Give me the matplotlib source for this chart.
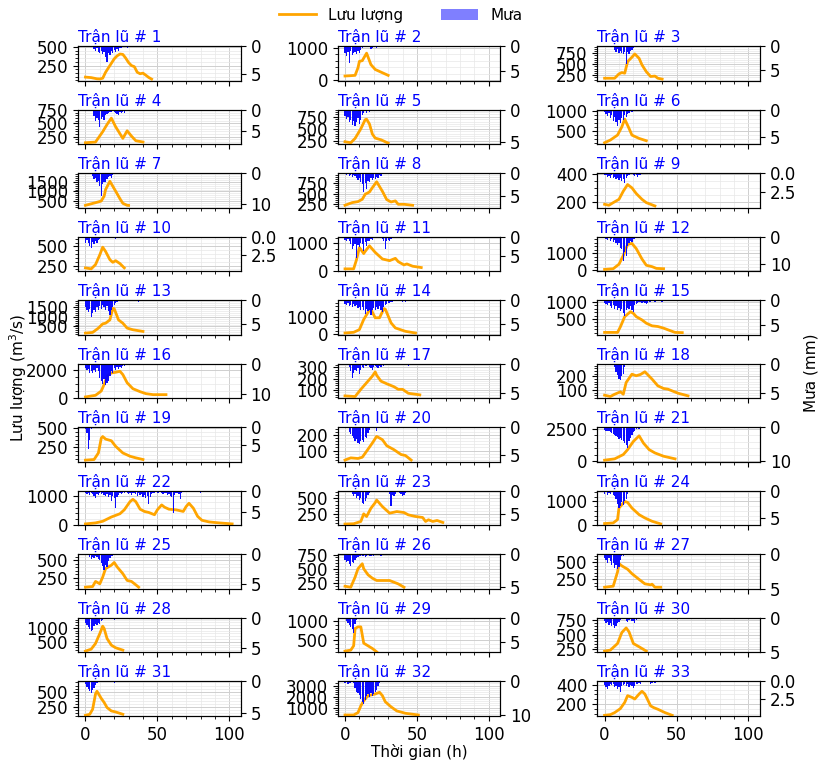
# Flood events: discharge hydrograph + inverted hourly rainfall, 33 events

import matplotlib
matplotlib.use("Agg")
import matplotlib.pyplot as plt
from matplotlib.lines import Line2D
from matplotlib.patches import Patch

# discharge (hour, m3/s)
q01 = [(0,95),(4,88),(8,72),(10,70),(12,80),(14,160),(16,220),(18,280),(20,340),(22,380),(24,405),(26,400),(28,350),(30,290),(32,250),(34,235),(36,160),(38,140),(40,148),(42,120),(44,90),(46,68)]
q02 = [(0,130),(4,140),(7,150),(9,380),(10,580),(12,600),(15,830),(18,480),(21,330),(25,250),(27,210),(30,150)]
q03 = [(0,180),(7,180),(10,280),(12,310),(14,295),(16,560),(19,660),(21,735),(24,635),(26,485),(29,330),(32,220),(35,230),(37,180),(40,160)]
q04 = [(0,137),(7,150),(12,344),(15,480),(18,600),(21,437),(26,219),(29,362),(32,262),(35,175),(40,150)]
q05 = [(0,229),(4,208),(7,298),(11,500),(14,690),(15,700),(17,600),(19,390),(21,305),(25,270),(30,200)]
q06 = [(0,195),(4,263),(9,390),(12,600),(14,797),(17,560),(19,390),(24,305),(29,246)]
q07 = [(0,276),(7,414),(11,500),(13,758),(14,1100),(17,1534),(19,1276),(21,1017),(24,620),(26,380),(29,276),(30,270)]
q08 = [(0,227),(5,290),(9,313),(12,368),(14,485),(17,540),(19,640),(22,780),(26,555),(29,360),(32,305),(35,330),(37,250),(41,250),(47,227)]
q09 = [(0,181),(3,174),(6,193),(10,217),(13,276),(16,324),(19,300),(22,259),(26,217),(29,193),(35,169)]
q10 = [(0,220),(4,207),(7,263),(10,392),(12,491),(14,435),(17,327),(19,293),(21,314),(24,276),(27,220)]
q11 = [(0,60),(6,60),(8,398),(10,843),(13,620),(14,700),(17,904),(21,663),(26,422),(31,361),(35,446),(37,325),(41,205),(43,241),(47,157),(53,108)]
q12 = [(0,60),(6,100),(10,360),(13,860),(16,1500),(19,1560),(22,1260),(26,660),(29,300),(33,220),(36,120),(41,100)]
q13 = [(0,166),(5,200),(9,417),(12,634),(14,667),(17,834),(19,1417),(20,1400),(23,834),(26,667),(29,417),(33,334),(40,250)]
q14 = [(0,60),(6,100),(10,255),(13,843),(17,1392),(18,1431),(21,941),(24,941),(27,1470),(28,1440),(32,647),(35,353),(42,157),(49,59)]
q15 = [(0,106),(9,106),(11,270),(14,567),(18,711),(20,663),(22,567),(26,471),(29,375),(33,298),(37,279),(41,231),(44,183),(49,106),(54,100)]
q16 = [(0,72),(7,190),(11,500),(13,976),(15,1570),(18,1810),(21,1857),(24,1929),(26,1690),(29,1095),(33,667),(38,452),(42,310),(47,238),(56,238)]
q17 = [(0,48),(7,42),(11,106),(15,164),(19,222),(21,260),(22,230),(25,178),(29,155),(34,129),(37,106),(40,106),(44,71),(52,57)]
q18 = [(0,60),(4,50),(7,67),(11,85),(13,67),(15,155),(19,217),(22,205),(25,215),(28,235),(33,180),(37,130),(41,110),(44,105),(47,92),(51,75),(58,55)]
q19 = [(0,82),(6,90),(9,176),(11,370),(12,392),(14,358),(18,336),(21,263),(26,176),(31,133),(35,112),(40,90)]
q20 = [(0,40),(4,54),(9,50),(12,58),(15,96),(19,148),(22,190),(26,169),(29,131),(34,106),(39,75),(42,69),(46,40)]
q21 = [(0,76),(7,178),(13,510),(16,892),(20,1530),(24,1964),(27,1403),(31,892),(35,637),(41,382),(49,178)]
q22 = [(0,44),(7,78),(12,133),(18,278),(24,389),(27,522),(31,800),(33,878),(35,800),(38,544),(41,467),(44,433),(48,355),(50,522),(53,689),(55,611),(58,544),(63,522),(68,467),(70,633),(72,744),(75,578),(78,300),(81,167),(86,111),(93,78),(102,44)]
q23 = [(0,85),(6,90),(11,127),(13,250),(15,207),(18,340),(21,431),(22,473),(26,367),(31,261),(33,271),(36,287),(41,271),(44,234),(49,207),(54,191),(56,127),(58,154),(61,127),(64,143),(68,111)]
q24 = [(0,70),(6,97),(9,236),(10,722),(12,861),(14,1000),(16,958),(19,722),(24,444),(28,306),(33,167),(39,56)]
q25 = [(0,123),(5,132),(7,203),(10,170),(12,264),(14,382),(18,429),(20,467),(22,406),(26,311),(29,217),(32,203),(35,156),(37,123)]
q26 = [(0,190),(4,173),(7,351),(9,500),(12,589),(13,500),(16,393),(19,333),(22,292),(26,292),(31,292),(34,262),(37,232),(41,173)]
q27 = [(0,135),(6,150),(9,360),(10,485),(12,450),(16,400),(19,335),(24,250),(28,185),(32,170),(33,180),(35,135),(39,135)]
q28 = [(0,167),(4,238),(7,440),(10,797),(12,1060),(13,976),(15,619),(18,381),(21,286),(26,202)]
q29 = [(0,211),(4,237),(6,351),(7,807),(9,851),(11,851),(13,421),(16,351),(19,281),(22,193)]
q30 = [(0,222),(4,239),(9,352),(12,540),(15,619),(17,551),(20,352),(24,296),(29,222)]
q31 = [(0,111),(3,128),(5,211),(7,461),(8,506),(11,389),(13,322),(15,239),(18,183),(21,166),(26,128)]
q32 = [(0,322),(6,322),(9,538),(11,1154),(13,1616),(16,2078),(18,2140),(21,2232),(24,2386),(26,2078),(28,1524),(32,1062),(36,692),(42,477),(51,322)]
q33 = [(0,84),(4,91),(7,112),(11,154),(14,218),(16,288),(19,270),(21,253),(24,305),(26,333),(28,305),(32,182),(34,165),(37,147),(42,112),(47,84)]

# hourly rainfall (mm), starting at hour 0
r01 = [0,0,0,0,0,0,0.5,0.8,0.3,1.0,1.2,0.9,1.5,1.1,2.0,2.8,1.2,1.6,0.9,1.3,0.7,1.0,0.5,0.8,0.3,0.4,0.2,0,0.1,0.3]
r02 = [1.5,2.0,1.2,3.4,1.0,1.8,1.5,1.2,1.6,1.0,1.4,0.8,0.5,0.3,0.2,0.1,0,0.3,0.6,0.4,0.2,0,0.4,0.2]
r03 = [0,0,0,0,0,0,0,0.8,1.2,0.6,1.5,1.0,1.4,1.7,1.2,3.8,1.3,1.6,1.0,0.8,0.4]
r04 = [0,0,0,0,0,0,1.5,2.8,2.0,2.5,4.0,2.2,1.8,2.5,1.2,1.0,0.8,0.6,0.5,0.3,0.5,0.8,1.0,1.2,0.6,0.9,0.5,0.8,0.4,0.3,0.2,0.1,0.3]
r05 = [1.0,1.5,1.2,2.0,1.6,2.4,1.8,2.6,2.0,1.4,2.2,1.6,0.8,0.5,0.3,0.6,0.2,0.4,0.2,0,0.3,0.1,0,0.2,0.1]
r06 = [0.5,0.8,1.2,0.6,1.5,1.0,2.0,1.4,2.2,3.0,1.8,2.4,1.5,1.8,1.0,1.3,0.8,0.6,0.3,0.4,0.2,0.1,0,0,0,0.2]
r07 = [0,0,0,0,0,1.0,2.0,1.5,3.0,2.5,4.3,7.5,3.5,2.8,3.0,2.0,1.2,0.8,1.5,0.6,0.3]
r08 = [0.3,0.5,0.2,0.6,0.4,0.8,0.5,0.7,1.0,1.5,1.2,2.0,2.5,4.3,2.2,3.5,1.8,2.0,1.2,1.6,1.0,1.4,0.8,1.0,0.5,0.6,0.3]
r09 = [0.3,0.2,0.5,0.4,0.6,0.3,0.7,0.5,0.8,0.6,0.9,0.7,1.0,0.8,1.3,0.6,0.4,0.2,0.1,0,0.2,0.4,0.3,0.5,0.2,0.3,0.1]
r10 = [0.8,0.5,0.9,1.2,1.5,0.7,1.0,0.6,0.8,0.4,0.3,0.2,0.1,0,0,0,0,0,0,0,0.2,0.3,0.1,0.2,0.1]
r11 = [0.8,1.0,0.6,1.2,2.0,3.3,2.4,1.8,5.4,2.2,2.8,1.6,2.0,3.7,1.5,2.4,1.0,1.2,0.6,0.8,
       0.3,0.2,0.4,0.2,0.1,0.3,0.5,1.0,3.1,1.2,0.8,1.1,0.6,0.4,0.3,0.2,0.3,0.1,0.2]
r12 = [0.5,0.8,1.2,0.6,1.5,1.0,2.0,1.4,2.5,3.0,2.2,4.0,4.7,9.0,5.5,7.2,3.5,2.4,1.5,1.8,0.8,1.0,0.4,0.6]
r13 = [1.5,2.0,2.5,1.8,3.6,2.8,2.2,2.6,1.5,2.0,1.2,1.8,1.0,1.5,2.0,1.2,2.4,3.2,2.0,1.5,
       1.0,0.6,0.4,0,0,0,0,0,0,0,0,0,0,0,0,0,0,0.4]
r14 = [0.8,1.0,0.6,1.2,1.0,1.5,0.8,1.2,1.0,1.6,1.4,2.0,1.5,2.2,2.9,1.8,2.4,2.0,3.2,2.1,
       1.6,2.0,1.4,1.8,1.2,2.0,2.5,1.5,1.0,0.8,0.6,0.5,0.4,0.3,0.2,0.1,0,0,0,0,0.3,0.2,0.3]
r15 = [0.5,0.8,1.0,0.6,1.2,1.5,1.0,1.8,1.2,2.0,1.5,2.2,1.8,2.5,3.3,2.0,1.6,1.8,1.2,2.0,
       2.3,1.0,0.8,0.5,0.3,0.4,0.6,0.3,0.5,0.8,0.6,0.4,0.3,0.2,0.1,0.3,0.2,0,0,0,0.3,0.2,0.1,0.2]
r16 = [1.5,2.2,1.8,3.0,2.5,3.2,2.0,2.8,1.5,2.4,4.8,5.5,6.5,5.0,7.0,6.2,5.5,4.0,2.5,3.0,
       1.5,2.0,1.2,1.8,1.0,1.4,0.6,0.8,0.3]
r17 = [0,0,0,0.5,1.2,2.4,1.5,1.0,1.3,0.8,1.7,1.0,0.6,0.8,0.4,0.3,0.2,0.5,0.8,1.1,
       0.6,0.4,0.5,0.8,0.3,0.5,0.2,0.3,0.1,0,0,0,0,0,0,0,0,0,0,0,0,0,0,0,0.3]
r18 = [0,0,0,0,0,0,0,0.5,1.5,2.0,2.6,2.8,2.2,1.8,0.6,0.2,0,0,0,0,0,0,0.2,0.3,0.1,0.2,0.1,0.3,0.2,0.1,0.2]
r19 = [0.5,1.5,6.1,3.5,0.5,0.2]
r20 = [0,0,0,0.8,1.2,1.5,2.0,2.4,2.1,2.8,3.0,2.5,2.2,2.6,1.8,2.0,1.0,0.5,0,0,0,0,0.6]
r21 = [0.8,1.0,1.2,1.0,1.5,1.8,2.0,2.2,2.6,2.8,3.3,3.0,3.6,4.0,4.5,5.2,6.2,4.0,3.0,2.2,1.5,1.0,0.6,0.3,0.4]
r22 = [0.5,0.8,0.4,1.0,0.6,0.8,1.2,1.6,0.8,1.0,0.5,0.8,0.6,1.0,1.2,0.8,1.5,1.0,2.4,1.2,
       1.8,4.0,1.5,1.0,0.6,0.8,0.4,0.6,0.3,0.5,0.8,0.4,1.0,0.6,0.4,0.8,1.2,0.6,1.0,0.8,
       1.5,1.0,1.8,1.2,3.2,1.5,0.8,0.5,0.6,0.3,0.4,0.6,0.3,0.5,0.8,0.4,0.6,1.0,0.8,1.2,
       1.5,5.2,1.0,0.6,0.4,0.8,2.0,0.5,0.3,0.2,0.1,0,0,0,0,0,0,0,0.3,0.2,0.4,0.3,0.2]
r23 = [0,0,0,0,0,0.6,1.2,0.8,1.5,1.1,2.0,1.6,2.6,3.0,2.2,1.5,1.0,0.4,0,0,
       0,0,0,0,0.2,0,0,0,0,0,0,0.8,3.4,1.0,1.2,0.6,0.3,0.2,0.4,0.8,1.1,0.9,0.5]
r24 = [0.5,0.3,0.8,0.4,0.6,0.3,0.8,1.0,1.5,2.4,3.2,2.8,2.0,2.6,1.8,1.6,0.5]
r25 = [0,0,0,0.5,0.8,0.4,0.6,0.3,0.5,0.8,1.0,1.5,2.0,2.6,1.8,2.2,1.2,0.6,0.3,0.2]
r26 = [0.8,1.2,1.0,1.5,1.8,1.2,1.4,0.8,0.6,0.4,0.3,0.2,0.3,0.2,0.4,0.2,0.1,0.3,0.2,0.1,0.2,0.1,0.1,0.1,0.1,0.2]
r27 = [0.5,0.8,1.2,0.6,1.0,1.5,1.2,2.0,1.6,2.2,1.8,0.8,0.3,0.2]
r28 = [0.8,1.2,1.5,1.8,2.2,2.0,1.4,1.0,1.2,0.8,1.0,0.6,0.4,0,0,0,0,0,0,0,0.3]
r29 = [0.3,0.6,1.0,1.4,1.8,2.4,3.1,1.2,0.4,0.2,0.3,0.1,0.2,0.1,0.2]
r30 = [0.5,0.8,0.6,1.0,0.8,1.2,1.0,1.5,1.2,0.8,0.6,0.3,0.2,0.1,0.2,0.5,0.6,0.3,0.2,0.4,0.5,0.7,0.3,0.2]
r31 = [0.4,0.8,1.2,1.5,1.8,1.4,1.0,0.5,0.2,0,0,0,0,0,0,0,0,0,0,0,0.2,0.1]
r32 = [0.5,0.3,0.8,0.4,0.6,0.3,0.5,2.0,3.0,3.5,4.0,5.2,6.0,6.8,5.5,4.2,3.8,4.6,3.5,4.3,3.8,3.0,2.4,1.2,0.6,0.3]
r33 = [0.5,0.8,1.1,0.6,0.3,0.5,0.4,0.8,0.6,1.0,0.8,1.4,0.7,0.5,0.3,0.6,0.4,0.8,0.5,0.7,
       0.9,0.6,0.4,0.3,0.2,0.3,0.1,0,0,0,0,0,0.3,0.2,0.1,0.2]

flows = [q01,q02,q03,q04,q05,q06,q07,q08,q09,q10,q11,q12,q13,q14,q15,q16,q17,
         q18,q19,q20,q21,q22,q23,q24,q25,q26,q27,q28,q29,q30,q31,q32,q33]
rains = [r01,r02,r03,r04,r05,r06,r07,r08,r09,r10,r11,r12,r13,r14,r15,r16,r17,
         r18,r19,r20,r21,r22,r23,r24,r25,r26,r27,r28,r29,r30,r31,r32,r33]

# axis ranges per event
q_lim = [(49,513),(-8,1050),(128,917),
         (112,762),(180,903),(161,1042),
         (156,1964),(172,984),(157,407),
         (177,629),(-24,1241),(-40,1950),
         (83,1834),(-39,1960),(39,1048),
         (-24,2476),(27,332),(37,295),
         (60,513),(29,248),(-51,2628),
         (-5,1167),(64,622),(-5,1444),
         (99,580),(143,755),(110,620),
         (119,1357),(176,1088),(199,790),
         (100,667),(230,3370),(77,435)]
r_max = [6.1,7.0,7.1, 8.1,5.4,6.2, 11.3,7.7,4.6, 4.6,8.9,12.7, 7.4,7.4,7.0,
         11.3,5.8,6.0, 9.6,6.2,10.1, 8.1,7.6,6.4, 5.9,5.3,5.05, 5.8,7.2,5.1,
         5.4,10.2,4.8]

plt.rcParams['xtick.labelsize'] = 12
plt.rcParams['ytick.labelsize'] = 12

fig, axes = plt.subplots(11, 3, sharex=True, figsize=(8.18, 7.6), dpi=100)
plt.subplots_adjust(left=0.0954, right=0.929, top=0.9395, bottom=0.0579,
                    wspace=0.595, hspace=0.84)

for i, ax in enumerate(axes.flat):
    t, q = zip(*flows[i])
    ax.plot(t, q, color='orange', lw=2, zorder=3)
    ax.set_ylim(q_lim[i])
    ax.minorticks_on()
    ax.grid(which='major', color='#cfcfcf', lw=0.7)
    ax.grid(which='minor', color='#e8e8e8', lw=0.5)
    ax.set_title("Trận lũ # %d" % (i + 1), loc='left', color='blue',
                 fontsize=11, pad=3)

    ax2 = ax.twinx()
    ax2.bar(range(len(rains[i])), rains[i], width=0.9, color='blue',
            alpha=0.95, linewidth=0)
    ax2.set_ylim(r_max[i], 0)

axes[0, 0].set_xlim(-5.15, 108)
axes[10, 1].set_xlabel('Thời gian (h)', fontsize=11, labelpad=0)

fig.text(0.022, 0.503, 'Lưu lượng (m$^3$/s)', rotation=90, ha='center',
         va='center', fontsize=11)
fig.text(0.992, 0.51, 'Mưa (mm)', rotation=90, ha='center', va='center',
         fontsize=11)

handles = [Line2D([], [], color='orange', lw=2),
           Patch(facecolor='blue', alpha=0.5)]
fig.legend(handles, ['Lưu lượng', 'Mưa'], loc='upper center',
           bbox_to_anchor=(0.49, 1.008), ncol=2, frameon=False, fontsize=11,
           columnspacing=2.5, handlelength=2.4)

fig.savefig('out.png', dpi=100)
